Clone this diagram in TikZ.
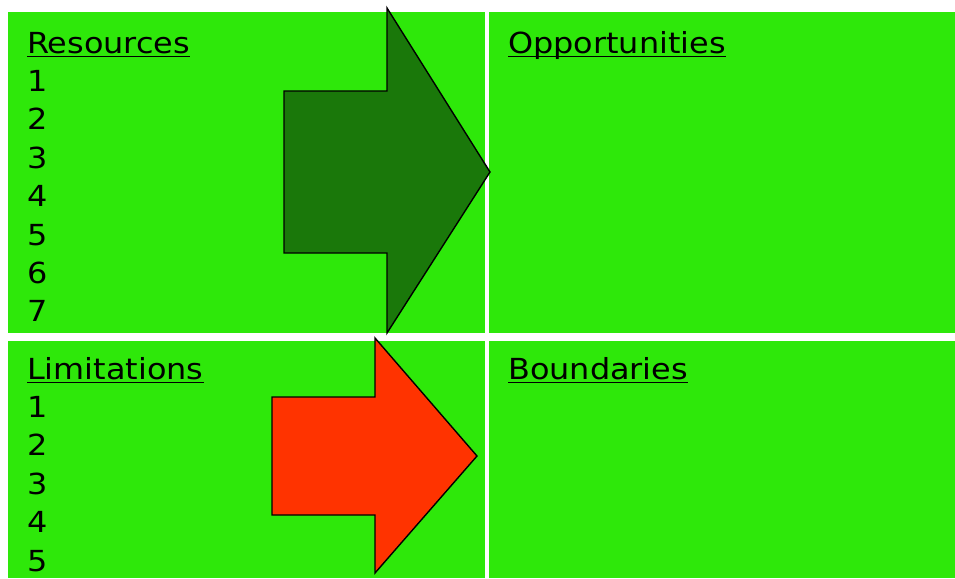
\documentclass[tikz,border=0pt]{standalone}
\usepackage{fontspec}
\setmainfont{DejaVu Sans}[FakeStretch=1.1]
\definecolor{panelgreen}{HTML}{2EE80A}
\definecolor{darkarrow}{HTML}{1A780A}
\definecolor{redarrow}{HTML}{FF3300}
\tikzset{
  panel/.style={fill=panelgreen, draw=none},
  label/.style={anchor=base west, inner sep=0pt, font=\fontsize{29}{34}\selectfont},
  uline/.style={line width=1.8pt},
  bigarrow/.style={draw=black, line width=1.4pt, line join=miter},
}
\begin{document}
\begin{tikzpicture}[x=1pt, y=-1pt]
  \useasboundingbox (0,0) rectangle (955,578);
  \fill[white] (0,0) rectangle (955,578);

  % four panels
  \path[panel] (8,12) rectangle (485,333);
  \path[panel] (489,12) rectangle (955,333);
  \path[panel] (8,341) rectangle (485,578);
  \path[panel] (489,341) rectangle (955,578);

  % headings
  \node[label] (res) at (27,53) {Resources};
  \node[label] (opp) at (508,53) {Opportunities};
  \node[label] (lim) at (27,379) {Limitations};
  \node[label] (bnd) at (508,379) {Boundaries};
  \foreach \n in {res,opp,lim,bnd}
    \draw[uline] ([yshift=-3.5pt]\n.base west) -- ([yshift=-3.5pt]\n.base east);

  % numbered lists
  \foreach \i in {1,...,7}
    \node[label] (r\i) at (27,{53+38.4*\i}) {\i};
  \foreach \i in {1,...,5}
    \node[label] (l\i) at (27,{379+38.4*\i}) {\i};

  % arrows
  \draw[bigarrow, fill=darkarrow]
    (284,91) -- (387,91) -- (387,8) -- (490,172) -- (387,333) -- (387,253) -- (284,253) -- cycle;
  \draw[bigarrow, fill=redarrow]
    (272,397) -- (375,397) -- (375,338) -- (477,456) -- (375,573) -- (375,515) -- (272,515) -- cycle;
\end{tikzpicture}
\end{document}
